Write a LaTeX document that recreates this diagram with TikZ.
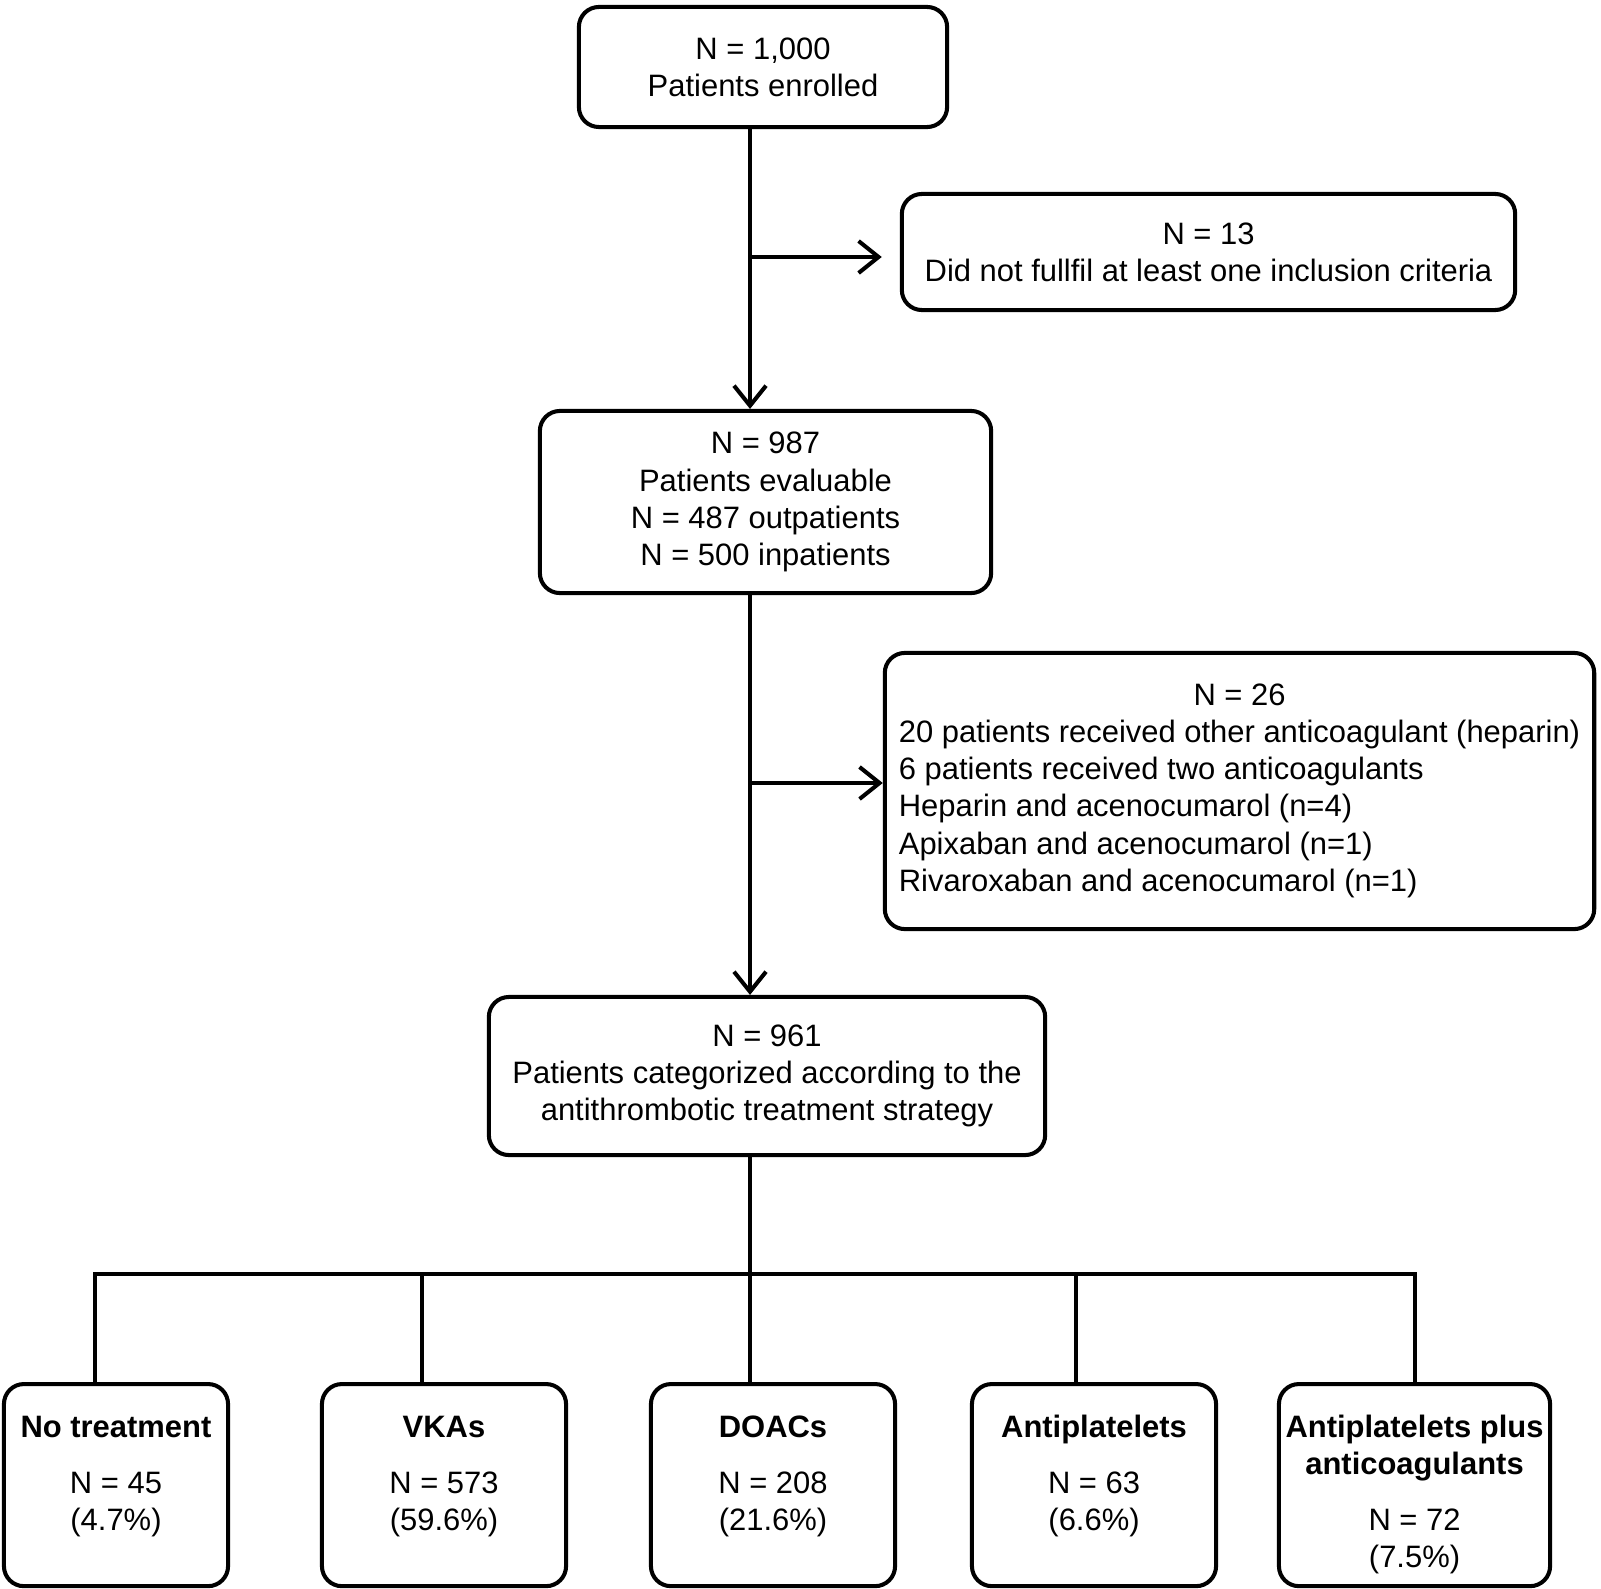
\documentclass[tikz,border=0pt]{standalone}
\usepackage{fontspec}
\setmainfont{Liberation Sans}
\usetikzlibrary{arrows.meta}
\tikzset{
	flowbox/.style = {draw, rounded corners=0.2cm, line width=1.15pt, inner sep=0pt,
		align=center, font=\fontsize{8.8}{10.55}\selectfont},% boite generale
	grpbox/.style = {flowbox, anchor=north, minimum height=2.02cm,
		text height=0.53cm, text depth=1.49cm},% boite de groupe, texte en haut
	link/.style = {line width=1.15pt}% trait de liaison
}

\begin{document}
\begin{tikzpicture}[x=0.01cm, y=-0.01cm, >={Straight Barb[length=0.2cm, width=0.32cm]}]
			\useasboundingbox (0,0) rectangle (1601,1588);
			% boites du flux principal
			\node [flowbox, minimum width=3.68cm, minimum height=1.2cm] (enroll) at (763,67)
				{N = 1,000\\Patients enrolled};
			\node [flowbox, minimum width=6.13cm, minimum height=1.16cm] (excl1) at (1208.5,252)
				{N = 13\\Did not fullfil at least one inclusion criteria};
			\node [flowbox, minimum width=4.51cm, minimum height=1.82cm] (eval) at (765.5,502)
				{N = 987\\Patients evaluable\\N = 487 outpatients\\N = 500 inpatients};
			\node [flowbox, minimum width=7.09cm, minimum height=2.76cm] (excl2) at (1239.5,791)
				{\begin{tabular}{@{}l@{}}
					\multicolumn{1}{@{}c@{}}{N = 26}\\
					20 patients received other anticoagulant (heparin)\\
					6 patients received two anticoagulants\\
					Heparin and acenocumarol (n=4)\\
					Apixaban and acenocumarol (n=1)\\
					Rivaroxaban and acenocumarol (n=1)
				\end{tabular}};
			\node [flowbox, minimum width=5.56cm, minimum height=1.58cm] (cat) at (767,1076)
				{N = 961\\Patients categorized according to the\\antithrombotic treatment strategy};
			% boites des groupes
			\node [grpbox, minimum width=2.24cm] (b1) at (116,1382)
				{\begin{tabular}[t]{@{}c@{}}\textbf{No treatment}\\[0.19cm]N = 45\\(4.7\%)\end{tabular}};
			\node [grpbox, minimum width=2.44cm] (b2) at (444,1382)
				{\begin{tabular}[t]{@{}c@{}}\textbf{VKAs}\\[0.19cm]N = 573\\(59.6\%)\end{tabular}};
			\node [grpbox, minimum width=2.44cm] (b3) at (773,1382)
				{\begin{tabular}[t]{@{}c@{}}\textbf{DOACs}\\[0.19cm]N = 208\\(21.6\%)\end{tabular}};
			\node [grpbox, minimum width=2.44cm] (b4) at (1094,1382)
				{\begin{tabular}[t]{@{}c@{}}\textbf{Antiplatelets}\\[0.19cm]N = 63\\(6.6\%)\end{tabular}};
			\node [grpbox, minimum width=2.71cm] (b5) at (1414.5,1382)
				{\begin{tabular}[t]{@{}c@{}}\textbf{Antiplatelets plus}\\\textbf{anticoagulants}\\[0.19cm]N = 72\\(7.5\%)\end{tabular}};
			% points de jonction
			\coordinate (j1) at (750,257);
			\coordinate (j2) at (750,783);
			\coordinate (fork) at (750,1274);
			\coordinate (d1) at (95,1274);
			\coordinate (d2) at (422,1274);
			\coordinate (d4) at (1076,1274);
			\coordinate (d5) at (1415,1274);
			% liaisons
			\draw [link, ->] (enroll.south -| fork) -- (eval.north -| fork);
			\draw [link, ->, shorten >=0.18cm] (j1) -- (j1 -| excl1.west);
			\draw [link, ->] (eval.south -| fork) -- (cat.north -| fork);
			\draw [link, ->] (j2) -- (j2 -| excl2.west);
			\draw [link] (cat.south -| fork) -- (fork |- b3.north);
			\draw [link] (d1 |- b1.north) -- (d1) -- (d5) -- (d5 |- b5.north);
			\foreach \k in {2,4}
				\draw [link] (d\k) -- (d\k |- b\k.north);
\end{tikzpicture}
\end{document}
